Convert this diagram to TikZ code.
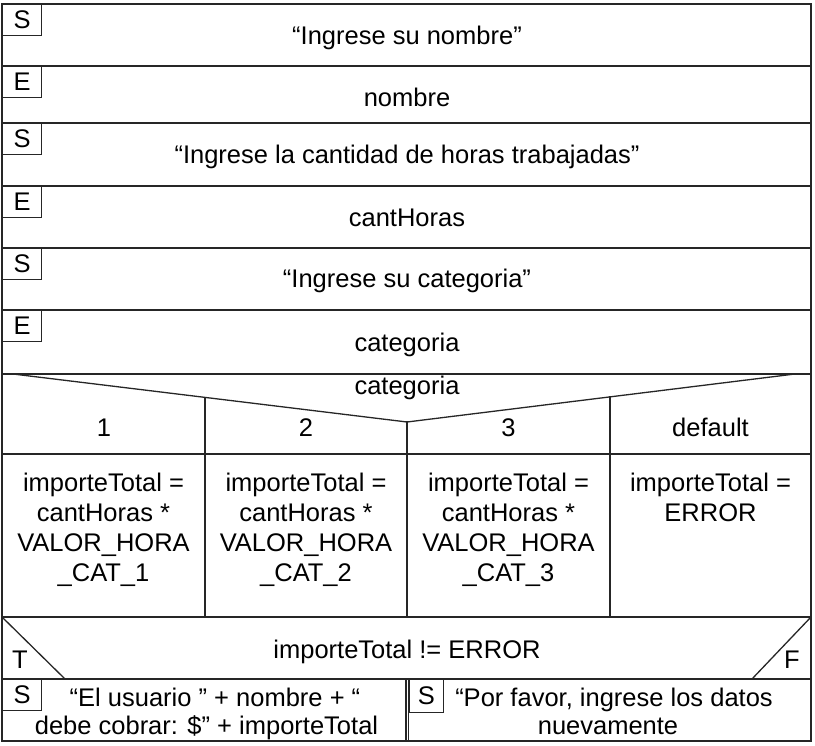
\documentclass[tikz,border=0pt]{standalone}
\usepackage{fontspec}
\setmainfont{Liberation Sans}
\newcommand\nsfont{\fontsize{25.5}{30}\selectfont}
\newcommand\nsfontb{\fontsize{25.5}{28}\selectfont}
\tikzset{
  ln/.style={line width=1.3pt, line cap=rect, draw=black!85},
  lbl/.style={draw=black!85, line width=1.3pt, anchor=north west, inner sep=0pt,
              minimum width=39pt, minimum height=31pt, font=\nsfont},
  txt/.style={inner sep=0pt, font=\nsfont, anchor=base},
  cell/.style={inner sep=0pt, font=\nsfont, align=center, anchor=north},
  cellb/.style={inner sep=0pt, font=\nsfontb, align=center, anchor=north},
}
\begin{document}
\begin{tikzpicture}[x=1pt, y=-1pt]
\useasboundingbox (0,0) rectangle (815,746);
% outer frame and row lines
\draw[ln] (2,4) rectangle (811,741);
\foreach \yy in {66,123,186,248,310,374,454,617,679}
  \draw[ln] (2,\yy) -- (811,\yy);
% sequential rows
\node[lbl] (s1) at (2,4) {S};
\node[txt] (t1) at (407,45) {“Ingrese su nombre”};
\node[lbl] (e1) at (2,66) {E};
\node[txt] (t2) at (407,107) {nombre};
\node[lbl] (s2) at (2,123) {S};
\node[txt] (t3) at (407,164) {“Ingrese la cantidad de horas trabajadas”};
\node[lbl] (e2) at (2,186) {E};
\node[txt] (t4) at (407,227) {cantHoras};
\node[lbl] (s3) at (2,248) {S};
\node[txt] (t5) at (407,288) {“Ingrese su categoria”};
\node[lbl] (e3) at (2,310) {E};
\node[txt] (t6) at (407,352) {categoria};
% switch header
\draw[ln] (13,374) -- (407,422) -- (795,374);
\node[txt] (sw) at (407,395) {categoria};
\draw[ln] (205,397.4) -- (205,617);
\draw[ln] (407,422) -- (407,617);
\draw[ln, line width=1.8pt] (610,397) -- (610,617);
\node[txt] (c1) at (104,436) {1};
\node[txt] (c2) at (306,436) {2};
\node[txt] (c3) at (508.5,436) {3};
\node[txt] (c4) at (710.5,436) {default};
% cases
\node[cell] (b1) at (103.5,472.7) {importeTotal =\\cantHoras *\\VALOR\_HORA\\\_CAT\_1};
\node[cell] (b2) at (306,472.7) {importeTotal =\\cantHoras *\\VALOR\_HORA\\\_CAT\_2};
\node[cell] (b3) at (508.5,472.7) {importeTotal =\\cantHoras *\\VALOR\_HORA\\\_CAT\_3};
\node[cell] (b4) at (710.5,472.7) {importeTotal =\\ERROR};
% condition
\draw[ln] (2,617) -- (65,679);
\draw[ln] (811,617) -- (752,679);
\node[txt] (cond) at (407,658) {importeTotal != ERROR};
\node[txt] (tt) at (20,668) {T};
\node[txt] (ff) at (792,668) {F};
% branches
\draw[ln] (406,679) -- (406,741);
\draw[ln] (408.5,679) -- (408.5,741);
\node[lbl] (s4) at (2,679) {S};
\node[cellb] (o1) at (206.5,687.4) {\hspace*{17pt}“El usuario ” + nombre + “\\debe cobrar: \$” + importeTotal};
\node[lbl, minimum width=34.5pt, minimum height=33pt] (s5) at (408.5,679) {S};
\node[cellb] (o2) at (608,687.4) {\hspace*{12pt}“Por favor, ingrese los datos\\nuevamente};
\end{tikzpicture}
\end{document}
